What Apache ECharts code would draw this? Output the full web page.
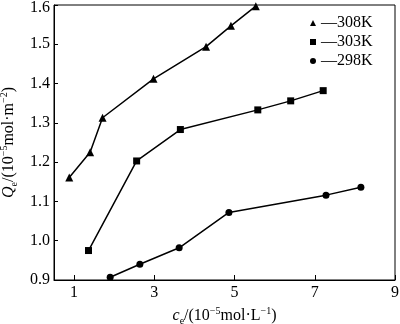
<!DOCTYPE html>
<html>
<head>
<meta charset="utf-8">
<script src="https://cdn.jsdelivr.net/npm/echarts@6/dist/echarts.min.js"></script>
<style>
  html, body { margin: 0; padding: 0; background: #fff; }
  #chart { width: 400px; height: 324px; }
</style>
</head>
<body>
<div id="chart"></div>
<script>
// Equilibrium adsorption amount vs. equilibrium concentration at three temperatures
const seriesNames = ['308K', '303K', '298K'];
const ce308 = [0.88, 1.40, 1.71, 2.98, 4.29, 4.91, 5.53];
const qe308 = [1.161, 1.225, 1.313, 1.412, 1.494, 1.547, 1.597];
const ce303 = [1.36, 2.56, 3.65, 5.58, 6.40, 7.21];
const qe303 = [0.975, 1.203, 1.283, 1.333, 1.356, 1.382];
const ce298 = [1.90, 2.64, 3.62, 4.86, 7.28, 8.15];
const qe298 = [0.907, 0.940, 0.982, 1.072, 1.116, 1.136];
const xTicks = [1, 3, 5, 7, 9];

const pair = (xs, ys) => xs.map((x, i) => [x, ys[i]]);
const FONT = '"Liberation Serif", "DejaVu Serif", serif';

const chart = echarts.init(document.getElementById('chart'), null, { renderer: 'canvas' });

const rich = {
  i: { fontFamily: FONT, fontStyle: 'italic', fontSize: 16, color: '#000', lineHeight: 20, verticalAlign: 'middle' },
  sub: { fontFamily: FONT, fontSize: 10, color: '#000', lineHeight: 20, verticalAlign: 'bottom' },
  sup: { fontFamily: FONT, fontSize: 10, color: '#000', lineHeight: 20, verticalAlign: 'top' },
  n: { fontFamily: FONT, fontSize: 16, color: '#000', lineHeight: 20, verticalAlign: 'middle' }
};

const lineSeries = (name, data, symbol) => ({
  name: name,
  type: 'line',
  data: data,
  symbol: symbol,
  symbolSize: symbol === 'triangle' ? 8 : 7,
  lineStyle: { color: '#000', width: 1.5 },
  itemStyle: { color: '#000' },
  emphasis: { disabled: true },
  animation: false
});

chart.setOption({
  animation: false,
  backgroundColor: '#fff',
  grid: {
    left: 54, right: 5, top: 5, bottom: 44,
    containLabel: false,
    outerBoundsMode: 'none',
    show: true, borderColor: '#000', borderWidth: 1, backgroundColor: 'transparent'
  },
  legend: {
    left: 305, top: 10,
    orient: 'vertical',
    itemGap: 3,
    itemWidth: 6, itemHeight: 6,
    data: [
      { name: seriesNames[0], icon: 'triangle' },
      { name: seriesNames[1], icon: 'rect' },
      { name: seriesNames[2], icon: 'circle' }
    ],
    formatter: name => '\u2014' + name,
    textStyle: { fontFamily: FONT, fontSize: 16, color: '#000' },
    itemStyle: { color: '#000' },
    selectedMode: false
  },
  xAxis: {
    type: 'value',
    min: 0.5, max: 9,
    name: '{i|c}{sub|e}{n|/(10}{sup|\u22125}{n|mol\u00b7L}{sup|\u22121}{n|)}',
    nameLocation: 'middle',
    nameGap: 24,
    nameTextStyle: { rich: rich },
    axisLine: { lineStyle: { color: '#000', width: 1 } },
    axisTick: { inside: true, length: 5, customValues: xTicks, lineStyle: { color: '#000' } },
    axisLabel: { customValues: xTicks, fontFamily: FONT, fontSize: 16, color: '#000', margin: 5 },
    splitLine: { show: false }
  },
  yAxis: {
    type: 'value',
    min: 0.9, max: 1.6, interval: 0.1,
    name: '{i|Q}{sub|e}{n|/(10}{sup|\u22125}{n|mol\u00b7m}{sup|\u22122}{n|)}',
    nameLocation: 'middle',
    nameRotate: 90,
    nameGap: 31,
    nameTextStyle: { rich: rich },
    axisLine: { show: true, lineStyle: { color: '#000', width: 1 } },
    axisTick: { show: true, inside: true, length: 4, lineStyle: { color: '#000' } },
    axisLabel: {
      fontFamily: FONT, fontSize: 16, color: '#000', margin: 4,
      // the top label sits a little lower so it stays inside the canvas
      formatter: v => (Math.abs(v - 1.6) < 1e-9 ? '{top|' + v.toFixed(1) + '}' : v.toFixed(1)),
      rich: { top: { fontFamily: FONT, fontSize: 16, color: '#000', padding: [5, 0, 0, 0] } }
    },
    splitLine: { show: false }
  },
  series: [
    lineSeries(seriesNames[0], pair(ce308, qe308), 'triangle'),
    lineSeries(seriesNames[1], pair(ce303, qe303), 'rect'),
    lineSeries(seriesNames[2], pair(ce298, qe298), 'circle')
  ]
});
</script>
</body>
</html>
